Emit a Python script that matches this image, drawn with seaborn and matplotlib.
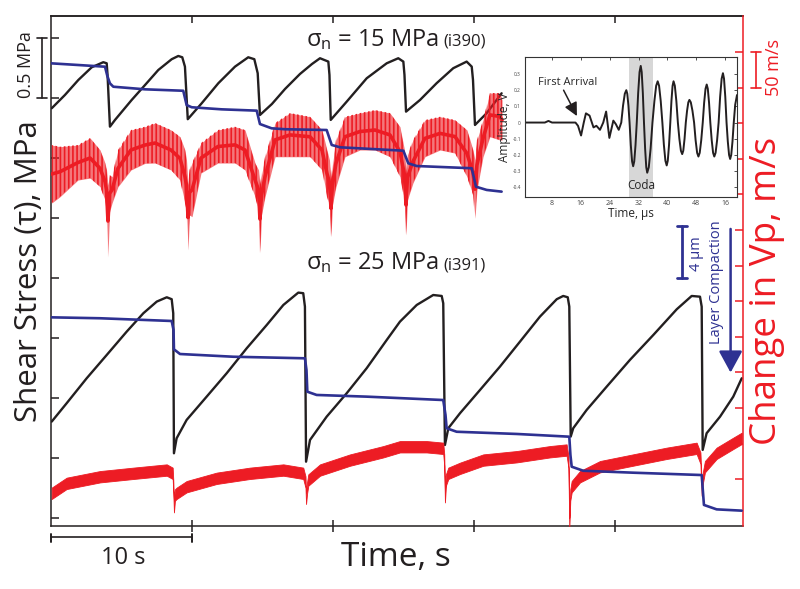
import matplotlib
matplotlib.use('Agg')
import matplotlib.pyplot as plt
import matplotlib.transforms as mtransforms
import seaborn as sns

# ---------------- data ----------------
# sigma_n = 15 MPa (i390): shear stress (MPa), layer compaction (um), Vp change (m/s)
t_stress_15 = [0.05, 0.99, 1.94, 2.89, 3.71, 3.95, 4.01, 4.18, 4.54, 5.72, 6.67, 7.61,
               8.56, 9.03, 9.31, 9.50, 9.70, 10.69, 11.87, 13.05, 13.99, 14.42, 14.66,
               14.82, 15.67, 16.60, 17.66, 18.51, 19.08, 19.67, 19.75, 19.84, 20.97,
               22.39, 23.81, 24.63, 24.99, 25.07, 25.18, 26.17, 27.35, 28.53, 29.48,
               29.84, 29.93, 30.07, 30.90, 31.96]
stress_15 = [3.414, 3.525, 3.65, 3.756, 3.798, 3.789, 3.692, 3.261, 3.317, 3.483, 3.608,
             3.733, 3.823, 3.85, 3.839, 3.761, 3.323, 3.456, 3.623, 3.761, 3.839, 3.823,
             3.706, 3.358, 3.45, 3.575, 3.70, 3.783, 3.831, 3.803, 3.692, 3.317, 3.469,
             3.664, 3.789, 3.831, 3.803, 3.692, 3.386, 3.483, 3.623, 3.748, 3.803, 3.761,
             3.65, 3.275, 3.373, 3.539]

t_comp_15 = [0, 1.94, 3.83, 4.0, 4.18, 4.42, 6.67, 9.38, 9.62, 9.98, 12.11, 14.59, 14.82,
             15.65, 16.60, 19.55, 19.91, 20.50, 24.99, 25.34, 25.94, 29.84, 30.14, 30.90,
             31.96]
comp_15 = [35.59, 35.46, 35.33, 34.6, 34.05, 33.79, 33.59, 33.48, 32.38, 32.21, 32.05,
           31.95, 30.92, 30.59, 30.52, 30.46, 29.31, 29.13, 28.87, 27.9, 27.69, 27.52,
           26.1, 25.85, 25.72]

t_vp_15 = [0.05, 0.64, 1.91, 2.77, 3.48, 3.83, 3.94, 4.04, 4.15, 4.33, 4.75, 5.67, 6.67,
           7.38, 8.51, 9.15, 9.50, 9.61, 9.72, 9.82, 10.0, 10.64, 11.84, 13.05, 13.76,
           14.47, 14.72, 14.82, 14.93, 15.18, 15.89, 16.95, 18.37, 19.22, 19.57, 19.75,
           19.86, 19.96, 20.21, 20.85, 21.91, 22.98, 24.04, 24.75, 25.07, 25.18, 25.28,
           25.67, 26.52, 27.59, 28.65, 29.50, 29.93, 30.07, 30.21, 30.64, 31.13, 31.84,
           31.99]
vp_15_hi = [469.4, 467.0, 469.4, 479.2, 462.4, 444.1, 434.3, 413.2, 427.2, 424.9, 462.4,
            490.5, 495.1, 500.3, 490.5, 481.0, 462.4, 448.3, 413.2, 434.3, 444.1, 472.2,
            490.5, 495.1, 490.5, 444.1, 434.3, 413.2, 427.2, 452.9, 500.3, 514.3, 509.1,
            490.5, 462.4, 448.3, 420.2, 441.3, 476.4, 509.1, 514.3, 518.5, 514.3, 495.1,
            462.4, 427.2, 455.3, 476.4, 504.5, 509.1, 504.5, 490.5, 462.4, 448.3, 476.4,
            504.5, 542.4, 542.4, 532.6]
vp_15_lo = [387.9, 396.8, 420.2, 423.0, 410.8, 392.1, 378.1, 312.1, 375.3, 387.9, 410.8,
            434.3, 443.7, 444.1, 434.3, 420.2, 387.9, 378.1, 321.9, 371.1, 368.7, 430.1,
            444.1, 444.1, 434.3, 396.8, 378.1, 317.7, 371.1, 396.8, 452.9, 452.9, 452.9,
            434.3, 396.8, 385.1, 340.6, 385.1, 410.8, 452.9, 462.4, 462.4, 452.9, 424.9,
            392.1, 343.0, 392.1, 416.0, 452.9, 462.4, 458.1, 424.9, 399.2, 366.4, 406.2,
            452.9, 481.0, 476.4, 476.4]

# sigma_n = 25 MPa (i391)
t_stress_25 = [0.05, 1.11, 2.53, 3.95, 5.37, 6.55, 7.50, 8.21, 8.56, 8.67, 8.72, 8.91,
               9.62, 11.04, 12.46, 13.88, 15.30, 16.48, 17.54, 17.89, 18.01, 18.09, 18.37,
               19.55, 20.97, 22.39, 23.81, 24.75, 25.94, 27.11, 27.71, 27.82, 27.94, 28.18,
               29.01, 30.43, 31.84, 33.26, 34.68, 35.87, 36.33, 36.65, 36.76, 36.86, 37.04,
               37.99, 39.41, 41.06, 42.72, 44.38, 45.44, 46.03, 46.15, 46.22, 46.50, 47.45,
               48.39, 48.99]
stress_25 = [0.803, 0.956, 1.164, 1.358, 1.553, 1.706, 1.803, 1.839, 1.823, 1.706, 0.539,
             0.664, 0.817, 1.011, 1.206, 1.414, 1.608, 1.775, 1.878, 1.873, 1.761, 0.469,
             0.65, 0.844, 1.039, 1.248, 1.483, 1.636, 1.775, 1.858, 1.85, 1.789, 0.608,
             0.748, 0.873, 1.067, 1.261, 1.469, 1.678, 1.823, 1.85, 1.839, 1.761, 0.678,
             0.748, 0.9, 1.094, 1.317, 1.525, 1.739, 1.85, 1.844, 1.761, 0.567, 0.706,
             0.844, 1.011, 1.164]

t_comp_25 = [0.05, 3.48, 8.56, 8.69, 8.72, 9.15, 12.93, 18.01, 18.12, 18.18, 18.84, 22.39,
             27.82, 27.98, 28.06, 28.77, 33.03, 36.76, 36.84, 36.93, 37.75, 41.30, 46.15,
             46.24, 46.31, 47.21, 48.99]
comp_25 = [16.05, 15.98, 15.77, 15.08, 13.59, 13.23, 13.02, 12.9, 12.0, 10.33, 10.08, 9.95,
           9.69, 8.54, 7.52, 7.25, 7.08, 6.87, 5.46, 4.56, 4.25, 4.1, 3.92, 2.62, 1.62,
           1.28, 1.18]

t_vp_25 = [0.05, 1.11, 3.48, 5.84, 8.21, 8.63, 8.67, 8.72, 8.79, 8.91, 9.62, 11.75, 14.11,
           16.48, 17.89, 18.05, 18.09, 18.16, 18.25, 19.08, 21.21, 23.57, 24.75, 26.64,
           27.82, 27.89, 27.94, 28.01, 28.18, 29.01, 30.66, 33.03, 35.39, 36.57, 36.70,
           36.76, 36.83, 36.93, 37.52, 38.94, 41.30, 43.67, 45.79, 46.06, 46.15, 46.23,
           46.38, 47.21, 48.39, 48.99]
vp_25 = [-19.8, -5.8, 3.5, 8.3, 12.9, 8.3, -8.1, -38.6, -22.2, -19.8, -10.5, 1.3, 8.3,
         12.9, 8.3, -3.9, -26.8, -12.4, -1.1, 12.9, 26.9, 38.6, 45.6, 45.6, 43.4, 27.0,
         -24.6, -1.1, 8.3, 15.3, 26.9, 31.6, 38.6, 41.0, 24.2, -61.9, -22.2, -10.5, 3.5,
         17.6, 27.0, 36.4, 43.4, 29.8, -15.2, 1.7, 17.6, 36.4, 50.4, 57.4]

# inset: ultrasonic waveform (time in us, amplitude in V)
wave_time = [0.5, 6, 7, 8, 14.5, 15.2, 16.05, 16.8, 17.4, 18.4, 19.5, 20.3, 21.3, 22.2,
             23.0, 23.9, 25.0, 25.7, 26.5, 27.2, 27.69, 28.18, 28.6, 28.87, 29.19, 29.5,
             29.85, 30.2, 30.5, 30.8, 31.15, 31.5, 31.885, 32.27, 32.6, 32.87, 33.185,
             33.5, 33.815, 34.13, 34.4, 34.835, 35.34, 35.85, 36.39, 36.88, 37.3, 37.69,
             38.145, 38.6, 39.02, 39.44, 39.8, 40.1, 40.45, 40.8, 41.115, 41.43, 41.7,
             42.06, 42.48, 42.9, 43.32, 43.74, 44.1, 44.4, 44.75, 45.1, 45.45, 45.8, 46.1,
             46.49, 46.945, 47.4, 47.82, 48.24, 48.6, 48.96, 49.38, 49.8, 50.185, 50.57,
             50.9, 51.2, 51.55, 51.9, 52.285, 52.67, 53.0, 53.36, 53.78, 54.2, 54.62,
             55.04, 55.4, 55.7, 56.05, 56.4, 56.75, 57.1, 57.4, 57.7, 58.05, 58.4, 58.8,
             59.3]
wave_amp = [0.0, 0.0, 0.01, 0.0, 0.0, -0.02, -0.08, 0.0, 0.057, 0.043, -0.03, -0.02,
            -0.045, 0.0, 0.068, -0.095, 0.012, -0.01, -0.045, 0.0, 0.104, 0.178, 0.2,
            0.178, 0.104, 0.0, -0.14, -0.24, -0.27, -0.24, -0.14, 0.0, 0.182, 0.312, 0.35,
            0.312, 0.182, 0.0, -0.161, -0.276, -0.31, -0.276, -0.161, 0.0, 0.133, 0.227,
            0.255, 0.227, 0.133, 0.0, -0.138, -0.236, -0.265, -0.236, -0.138, 0.0, 0.133,
            0.227, 0.255, 0.227, 0.133, 0.0, -0.101, -0.174, -0.195, -0.174, -0.101, 0.0,
            0.073, 0.125, 0.14, 0.125, 0.073, 0.0, -0.109, -0.187, -0.21, -0.187, -0.109,
            0.0, 0.122, 0.209, 0.235, 0.209, 0.122, 0.0, -0.109, -0.187, -0.21, -0.187,
            -0.109, 0.0, 0.159, 0.271, 0.305, 0.271, 0.159, 0.0, -0.117, -0.2, -0.225,
            -0.2, -0.117, 0.0, 0.11, 0.17]
coda_window = [29.4, 36.0]
inset_xticks = [8, 16, 24, 32, 40, 48, 56]
inset_xticklabels = ['8', '16', '24', '32', '40', '48', '16']
inset_yticks = [-0.4, -0.3, -0.2, -0.1, 0, 0.1, 0.2, 0.3]
inset_yticklabels = ['-0.4', '-0.3', '-0.2', '-0.1', '0', '0.1', '0.2', '0.3']

time_ticks = [10, 20, 30, 40]
stress_ticks = [0, 0.5, 1.0, 1.5, 2.0, 2.5, 3.0, 3.5, 4.0]
vp_ticks = [0, 50, 100, 150, 200, 250, 300, 350, 400, 450, 500, 550, 600]

BLACK = '#231F20'
RED = '#ED1C24'
BLUE = '#2E3192'

sns.set_theme(style='white')
plt.rcParams['font.family'] = ['Open Sans', 'DejaVu Sans']
plt.rcParams['mathtext.fontset'] = 'custom'
plt.rcParams['mathtext.rm'] = 'Open Sans'
plt.rcParams['hatch.linewidth'] = 1.2

W, H = 800, 589
fig = plt.figure(figsize=(8, 5.89), dpi=100)
ax = fig.add_axes([51 / W, 1 - 526 / H, 692 / W, 510 / H])
ax_r = ax.twinx()
ax_b = ax.twinx()

# shear stress
sns.lineplot(x=t_stress_15, y=stress_15, ax=ax, color=BLACK, linewidth=1.7,
             sort=False, estimator=None)
sns.lineplot(x=t_stress_25, y=stress_25, ax=ax, color=BLACK, linewidth=1.7,
             sort=False, estimator=None)

# Vp change: noisy trace drawn as its envelope with a vertical-stroke texture
ax_r.fill_between(t_vp_15, vp_15_lo, vp_15_hi, facecolor=RED, lw=0, alpha=0.6)
ax_r.fill_between(t_vp_15, vp_15_lo, vp_15_hi, facecolor='none', edgecolor=RED,
                  hatch='||||', lw=0)
vp_15_mid = [(lo + hi) / 2 for lo, hi in zip(vp_15_lo, vp_15_hi)]
sns.lineplot(x=t_vp_15, y=vp_15_mid, ax=ax_r, color=RED, linewidth=2.6,
             sort=False, estimator=None)
vp_noise = 8
ax_r.fill_between(t_vp_25, [v - vp_noise for v in vp_25], [v + vp_noise for v in vp_25],
                  color=RED, lw=0.6, edgecolor=RED)

# layer compaction
sns.lineplot(x=t_comp_15, y=comp_15, ax=ax_b, color=BLUE, linewidth=1.9,
             sort=False, estimator=None)
sns.lineplot(x=t_comp_25, y=comp_25, ax=ax_b, color=BLUE, linewidth=1.9,
             sort=False, estimator=None)

# axes limits / ticks
for a in (ax, ax_r, ax_b):
    a.set_xlim(0, 49.08)
    a.set_xlabel('')
    a.set_ylabel('')
ax.set_ylim(-0.067, 4.183)
ax_r.set_ylim(-65.7, 650.6)
ax_b.set_ylim(0, 39.23)
ax_b.axis('off')

ax.set_xticks(time_ticks)
ax.set_yticks(stress_ticks)
ax.tick_params(axis='x', direction='inout', length=9, width=1.1, color=BLACK,
               bottom=True, top=False, labelbottom=False)
ax.tick_params(axis='y', direction='in', length=6, width=1.1, color=BLACK,
               left=True, labelleft=False)
top = ax.secondary_xaxis('top')
top.set_xticks(time_ticks)
top.tick_params(direction='in', length=5, width=1.1, color=BLACK, labeltop=False)
top.spines['top'].set_linewidth(1.1)

ax_r.set_yticks(vp_ticks)
ax_r.tick_params(axis='y', direction='in', length=6, width=1.1, color=RED,
                 right=True, labelright=False)
for s in ('left', 'bottom', 'top'):
    ax.spines[s].set_color(BLACK)
    ax.spines[s].set_linewidth(1.1)
    ax_r.spines[s].set_visible(False)
ax.spines['right'].set_visible(False)
ax_r.spines['right'].set_color(RED)
ax_r.spines['right'].set_linewidth(1.1)

# scale bars
tr = mtransforms.blended_transform_factory(ax.transAxes, ax.transData)
ax.plot([-0.013, -0.013], [3.5, 4.0], color=BLACK, lw=1.2, transform=tr, clip_on=False)
for y in (3.5, 4.0):
    ax.plot([-0.0205, -0.0055], [y, y], color=BLACK, lw=1.2, transform=tr, clip_on=False)

tr_r = mtransforms.blended_transform_factory(ax_r.transAxes, ax_r.transData)
ax_r.plot([1.0188, 1.0188], [550, 600], color=RED, lw=1.2, transform=tr_r, clip_on=False)
for y in (550, 600):
    ax_r.plot([1.012, 1.026], [y, y], color=RED, lw=1.2, transform=tr_r, clip_on=False)

tr_x = mtransforms.blended_transform_factory(ax.transData, ax.transAxes)
ax.plot([0, 10], [-0.0216, -0.0216], color=BLACK, lw=1.2, transform=tr_x, clip_on=False)
for x in (0, 10):
    ax.plot([x, x], [-0.015, -0.031], color=BLACK, lw=1.4, transform=tr_x, clip_on=False)

ax_b.plot([44.73, 44.73], [19.05, 23.05], color=BLUE, lw=2, clip_on=False)
for y in (19.05, 23.05):
    ax_b.plot([44.38, 45.13], [y, y], color=BLUE, lw=2, clip_on=False)
ax_b.annotate('', xy=(48.2, 11.8), xytext=(48.2, 22.85),
              arrowprops=dict(arrowstyle='-|>,head_length=1.1,head_width=0.6',
                              color=BLUE, lw=1.8, mutation_scale=12,
                              shrinkA=0, shrinkB=0))

# texts
fig.text(29 / W, 1 - 271 / H, 'Shear Stress (τ), MPa', rotation=90, ha='center',
         va='center', fontsize=22.5, color=BLACK)
fig.text(767 / W, 1 - 291 / H, 'Change in Vp, m/s', rotation=90, ha='center',
         va='center', fontsize=26.5, color=RED)
fig.text(26 / W, 1 - 65 / H, '0.5 MPa', rotation=90, ha='center', va='center',
         fontsize=13, color=BLACK)
fig.text(774 / W, 1 - 67 / H, '50 m/s', rotation=90, ha='center', va='center',
         fontsize=13, color=RED)
fig.text(696 / W, 1 - 254 / H, '4 µm', rotation=90, ha='center', va='center',
         fontsize=10.5, color=BLUE)
fig.text(717 / W, 1 - 282 / H, 'Layer Compaction', rotation=90, ha='center',
         va='center', fontsize=10.5, color=BLUE)
fig.text(396 / W, 1 - 557 / H, 'Time, s', ha='center', va='center', fontsize=24,
         color=BLACK)
fig.text(123 / W, 1 - 558 / H, '10 s', ha='center', va='center', fontsize=17,
         color=BLACK)

for label, run, base_y in (('15', '(i390)', 46), ('25', '(i391)', 269)):
    t = fig.text(306 / W, 1 - base_y / H, r'$\mathregular{σ_n}$ = ' + label + ' MPa',
                 ha='left', va='baseline', fontsize=17, color=BLACK)
    fig.canvas.draw()
    bb = t.get_window_extent()
    fig.text(bb.x1 / W + 4 / W, 1 - base_y / H, run, ha='left', va='baseline',
             fontsize=12, color=BLACK)

# inset
axin = fig.add_axes([525 / W, 1 - 197 / H, 212 / W, 140 / H])
axin.set_facecolor('white')
axin.axvspan(coda_window[0], coda_window[1], color='#D7D7D7', lw=0, zorder=0)
sns.lineplot(x=wave_time, y=wave_amp, ax=axin, color=BLACK, linewidth=1.4,
             sort=False, estimator=None)
axin.set_xlim(0.5, 59.3)
axin.set_ylim(-0.46, 0.405)
axin.set_xticks(inset_xticks)
axin.set_xticklabels(inset_xticklabels)
axin.set_yticks(inset_yticks)
axin.set_yticklabels(inset_yticklabels)
axin.tick_params(direction='in', length=2.5, width=0.6, top=True, right=True,
                 labelsize=5, pad=2, labelcolor='#444444', color='#333333')
axin.tick_params(axis='y', labelsize=3.5, pad=3)
for s in axin.spines.values():
    s.set_color('#333333')
    s.set_linewidth(0.8)
axin.set_xlabel('Time, µs', fontsize=8.5, labelpad=0)
axin.set_ylabel('Amplitude, V', fontsize=8.5, labelpad=1)
axin.text(12.4, 0.245, 'First Arrival', ha='center', va='center', fontsize=8)
axin.annotate('', xy=(14.9, 0.04), xytext=(11.2, 0.2),
              arrowprops=dict(arrowstyle='-|>,head_length=0.8,head_width=0.4',
                              color=BLACK, lw=1.1, mutation_scale=10,
                              shrinkA=0, shrinkB=0))
axin.text(32.7, -0.39, 'Coda', ha='center', va='center', fontsize=8.5)

fig.savefig('out.png', dpi=100)
